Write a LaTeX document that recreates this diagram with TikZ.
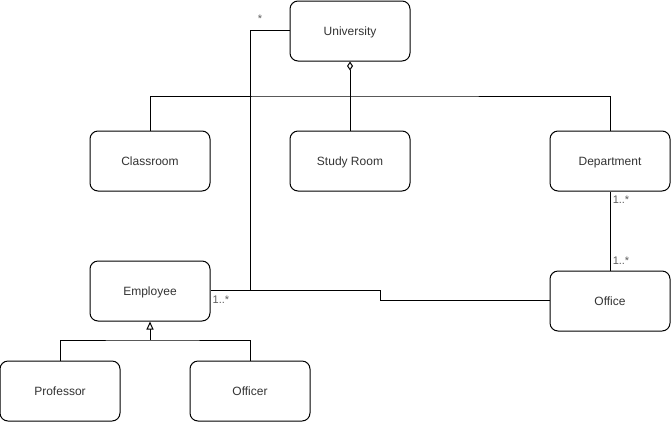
\documentclass[tikz,border=0pt]{standalone}
\usepackage{fontspec}
\setmainfont{Liberation Sans}
\usetikzlibrary{arrows.meta}
\definecolor{txt}{HTML}{333333}
\begin{document}
\begin{tikzpicture}[x=1pt,y=-1pt,
  cls/.style={draw=black,line width=1pt,rounded corners=8pt,minimum width=120pt,minimum height=60pt,inner sep=0pt,text depth=0pt,font=\fontsize{12}{14}\selectfont,text=txt},
  mult/.style={font=\fontsize{11}{13}\selectfont,text=txt!80,inner sep=0pt},
  conn/.style={line width=1pt,draw=black}]
\useasboundingbox (0,0) rectangle (671,421);
\node[cls] (uni) at (350,31) {University};
\node[cls] (class) at (150,161) {Classroom};
\node[cls] (study) at (350,161) {Study Room};
\node[cls] (dept) at (610,161) {Department};
\node[cls] (emp) at (150,291) {Employee};
\node[cls] (office) at (610,301) {Office};
\node[cls] (prof) at (60,391) {Professor};
\node[cls] (officer) at (250,391) {Officer};
\node[mult] (m1) at (260,19) {*};
\node[mult] (m2) at (221,300) {1..*};
\node[mult] (m3) at (621,200) {1..*};
\node[mult] (m4) at (621,261) {1..*};
\coordinate (bus) at (350,96);
\coordinate (gj) at (150,340);
\coordinate (ue) at (250,30);
\coordinate (s1) at (380,290);
\coordinate (s2) at (380,300);
\draw[conn] (class.north) |- (bus) -| (dept.north);
\draw[conn,{Diamond[open,length=9pt,width=6pt,line width=1pt]}-] (uni.south) -- (study.north);
\draw[conn] (uni.west |- ue) -- (ue) |- (emp.east |- s1);
\draw[conn] (emp.east |- s1) -- (s1) -- (s2) -- (office.west |- s2);
\draw[conn] (dept.south) -- (office.north);
\draw[conn] (prof.north) |- (gj) -| (officer.north);
\draw[conn,-{Triangle[open,length=8pt,width=7pt,line width=1pt]}] (gj) -- (emp.south);
\end{tikzpicture}
\end{document}
